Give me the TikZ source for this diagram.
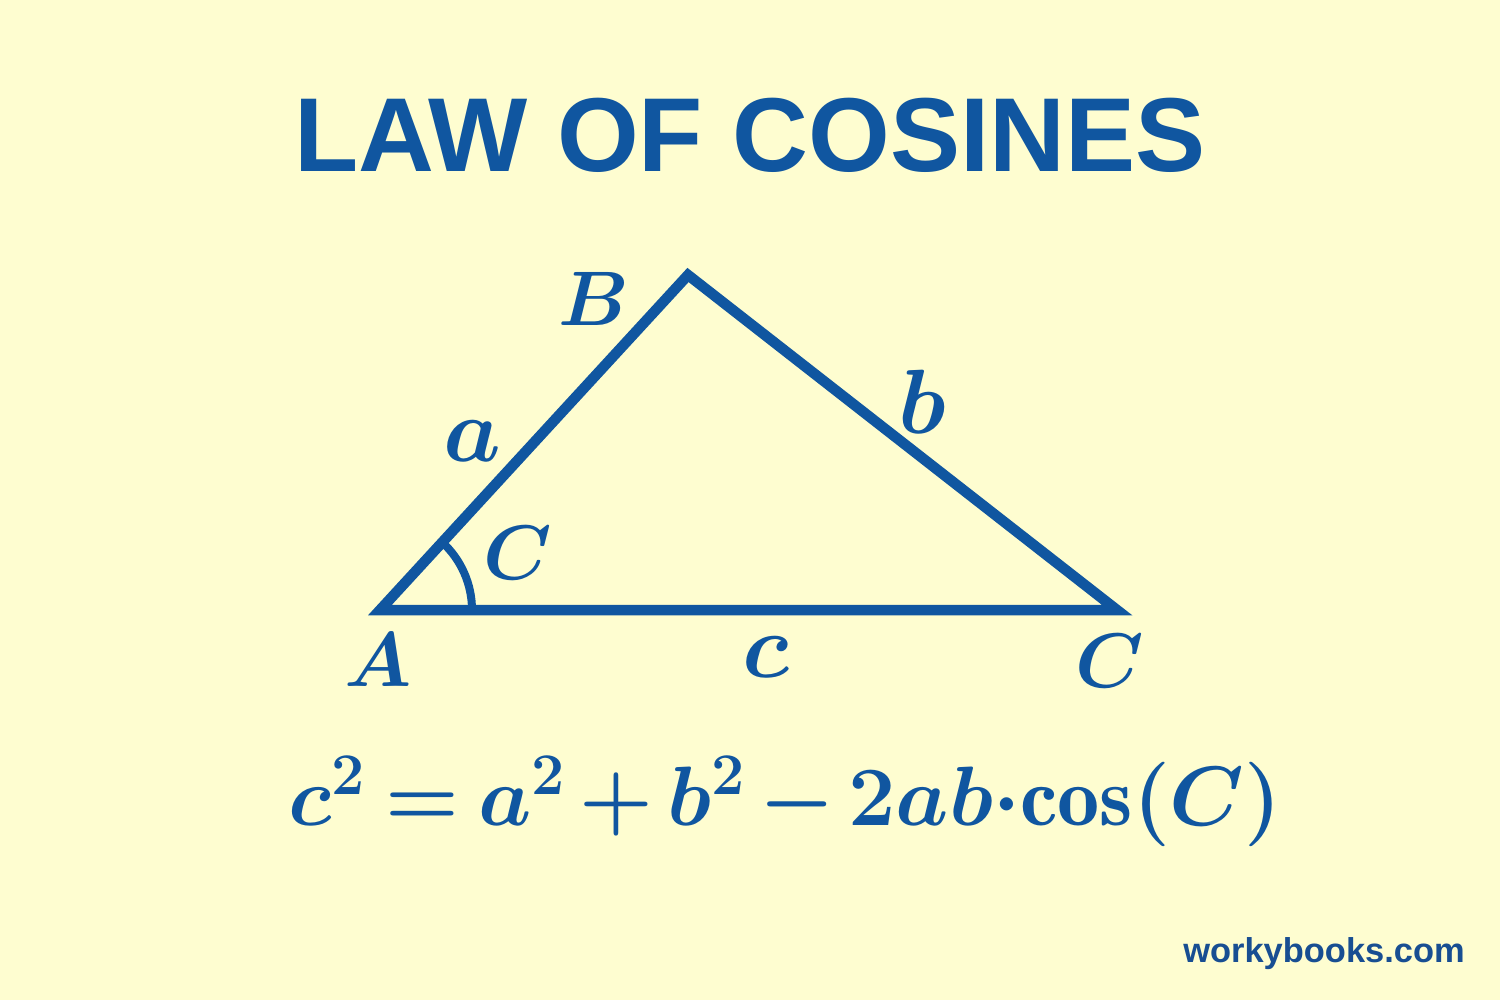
\RequirePackage{fix-cm}
\documentclass[tikz,border=0pt]{standalone}
\usepackage{amsmath}
\usepackage{fontspec}
\newfontfamily\titlefont{Liberation Sans}
\definecolor{bg}{RGB}{254,253,208}
\definecolor{ink}{RGB}{16,86,160}
\definecolor{ink2}{RGB}{24,78,146}
\begin{document}
\begin{tikzpicture}[x=0.1mm,y=0.1mm,
  side/.style={line width=1.05mm, draw=ink, line join=miter},
  caplbl/.style={text=ink, inner sep=0pt, font=\fontsize{22}{26}\selectfont\boldmath},
  lowlbl/.style={text=ink, inner sep=0pt, font=\fontsize{26}{30}\selectfont\boldmath}]
\fill[bg] (0,0) rectangle (1500,1000);
\useasboundingbox (0,0) rectangle (1500,1000);
\node[text=ink, anchor=base, inner sep=0pt, font=\titlefont\bfseries\fontsize{29.9}{36}\selectfont] (title) at (750,828) {LAW OF COSINES};
\coordinate (A) at (380,390);
\coordinate (B) at (688,725);
\coordinate (C) at (1117,390);
\coordinate (arcstart) at (472,390);
\draw[side] (A) -- (B) -- (C) -- cycle;
\draw[line width=0.8mm, draw=ink] (arcstart) arc[start angle=0, end angle=47.4, radius=92];
\node[caplbl] (lB) at (594,701) {$B$};
\node[lowlbl] (la) at (472,559) {$a$};
\node[lowlbl] (lb) at (922,598) {$b$};
\node[caplbl] (lCang) at (518,447) {$C$};
\node[caplbl] (lA) at (378,340) {$A$};
\node[lowlbl] (lc) at (766,343) {$c$};
\node[caplbl] (lC) at (1110,339) {$C$};
\node[text=ink, anchor=base, inner sep=0pt, font=\fontsize{24}{30}\selectfont\boldmath] (formula) at (785,175)
  {$\thickmuskip=3.5mu\medmuskip=2.5mu c^{2} = a^{2} + b^{2} - 2ab{\cdot}\mathrm{cos}(C)$};
\node[text=ink2, anchor=base, inner sep=0pt, font=\titlefont\bfseries\fontsize{9.8}{12}\selectfont] (site) at (1324,38) {workybooks.com};
\end{tikzpicture}
\end{document}
